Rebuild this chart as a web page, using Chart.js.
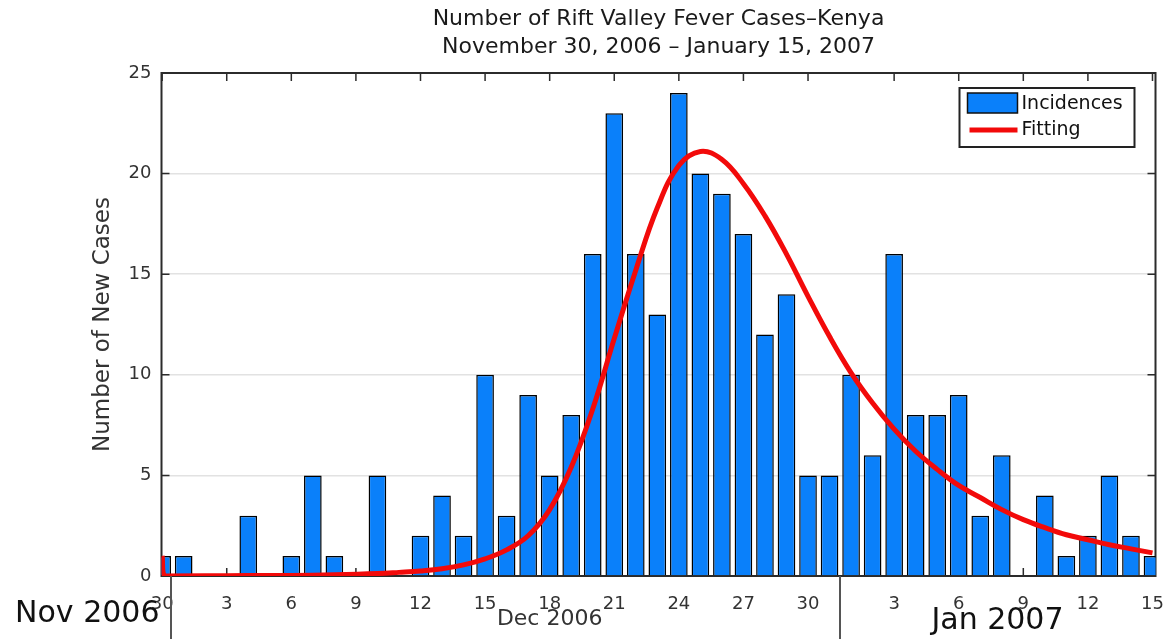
<!DOCTYPE html>
<html>
<head>
<meta charset="utf-8">
<script src="https://cdn.jsdelivr.net/npm/chart.js@4.4.1/dist/chart.umd.min.js"></script>
<style>
  html, body { margin: 0; padding: 0; background: #fff; }
  #wrap { width: 1168px; height: 639px; }
</style>
</head>
<body>
<div id="wrap"><canvas id="chart" width="1168" height="639"></canvas></div>
<script>
// day 0 = Nov 30 2006 ... day 46 = Jan 15 2007
const caseDays = [0, 1, 2, 3, 4, 5, 6, 7, 8, 9, 10, 11, 12, 13, 14, 15, 16, 17, 18, 19,
  20, 21, 22, 23, 24, 25, 26, 27, 28, 29, 30, 31, 32, 33, 34, 35, 36, 37, 38, 39,
  40, 41, 42, 43, 44, 45, 46];
const caseCounts = [1, 1, 0, 0, 3, 0, 1, 5, 1, 0, 5, 0, 2, 4, 2, 10, 3, 9, 5, 8,
  16, 23, 16, 13, 24, 20, 19, 17, 12, 14, 5, 5, 10, 6, 16, 8, 8, 9, 3, 6,
  0, 4, 1, 2, 5, 2, 1];

// fitted curve
const fitDays = [0, 0.12, 2, 4, 6, 8, 10, 11, 12, 13, 14, 15, 16, 17, 18, 19, 20, 21, 22, 23,
  24, 25, 26, 27, 28, 29, 30, 31, 32, 33, 34, 35, 36, 37, 38, 39, 40, 41, 42, 43, 44, 45, 46];
const fitValues = [1.0, 0.0, 0.01, 0.02, 0.03, 0.06, 0.12, 0.18, 0.25, 0.36, 0.55, 0.85, 1.3, 2.0, 3.3, 5.4, 8.3, 11.8, 15.2, 18.3,
  20.4, 21.1, 20.7, 19.5, 17.9, 16.0, 13.9, 11.9, 10.1, 8.6, 7.3, 6.2, 5.3, 4.5, 3.9, 3.3, 2.8, 2.4, 2.05, 1.8, 1.55, 1.35, 1.15];

const tickDays = [0, 3, 6, 9, 12, 15, 18, 21, 24, 27, 30, 34, 37, 40, 43, 46];
const tickLabels = ['30', '3', '6', '9', '12', '15', '18', '21', '24', '27', '30', '3', '6', '9', '12', '15'];
const monthLabels = ['Nov 2006', 'Dec 2006', 'Jan 2007'];

const FONT = "'DejaVu Sans', sans-serif";
Chart.defaults.font.family = FONT;

// matlab style box, inward ticks, month row and legend
const matlabFrame = {
  id: 'matlabFrame',
  beforeDatasetsDraw(chart) {
    const {ctx, chartArea: a, scales: {x, y}} = chart;
    ctx.save();
    ctx.strokeStyle = '#2b2b2b';
    ctx.lineWidth = 1.5;
    ctx.beginPath();
    x.ticks.forEach(t => {
      const px = x.getPixelForValue(t.value);
      ctx.moveTo(px, a.top); ctx.lineTo(px, a.top + 8);
      ctx.moveTo(px, a.bottom); ctx.lineTo(px, a.bottom - 8);
    });
    y.ticks.forEach(t => {
      const py = y.getPixelForValue(t.value);
      ctx.moveTo(a.left, py); ctx.lineTo(a.left + 8, py);
      ctx.moveTo(a.right, py); ctx.lineTo(a.right - 8, py);
    });
    ctx.stroke();
    ctx.lineWidth = 2;
    ctx.strokeRect(a.left, a.top, a.right - a.left, a.bottom - a.top);
    ctx.restore();
  },
  afterDraw(chart) {
    const {ctx, chartArea: a, scales: {x}} = chart;
    ctx.save();
    // month separators
    ctx.strokeStyle = '#555';
    ctx.lineWidth = 2;
    ctx.beginPath();
    [0.4, 31.5].forEach(d => {
      const px = Math.round(x.getPixelForValue(d));
      ctx.moveTo(px, a.bottom); ctx.lineTo(px, chart.height);
    });
    ctx.stroke();

    ctx.textBaseline = 'middle';
    ctx.fillStyle = '#111';
    ctx.font = '30px ' + FONT;
    ctx.textAlign = 'right';
    ctx.fillText(monthLabels[0], a.left - 2, 614);
    ctx.textAlign = 'center';
    ctx.fillText(monthLabels[2], x.getPixelForValue(38.8), 621);
    ctx.fillStyle = '#333';
    ctx.font = '22px ' + FONT;
    ctx.fillText(monthLabels[1], x.getPixelForValue(18), 619);

    // legend box
    const ds = chart.data.datasets;
    const bx = a.right - 196, by = a.top + 15, bw = 175, bh = 59;
    ctx.fillStyle = '#fff';
    ctx.fillRect(bx, by, bw, bh);
    ctx.strokeStyle = '#222';
    ctx.lineWidth = 2;
    ctx.strokeRect(bx, by, bw, bh);
    const bar = ds.find(d => d.type === 'bar');
    const line = ds.find(d => d.type === 'line');
    ctx.fillStyle = bar.backgroundColor;
    ctx.fillRect(bx + 8, by + 5, 50, 20);
    ctx.lineWidth = 1.5;
    ctx.strokeStyle = '#111';
    ctx.strokeRect(bx + 8, by + 5, 50, 20);
    ctx.strokeStyle = line.borderColor;
    ctx.lineWidth = 5;
    ctx.beginPath();
    ctx.moveTo(bx + 10, by + 42); ctx.lineTo(bx + 58, by + 42);
    ctx.stroke();
    ctx.fillStyle = '#111';
    ctx.font = '19px ' + FONT;
    ctx.textAlign = 'left';
    ctx.fillText(bar.label, bx + 62, by + 16);
    ctx.fillText(line.label, bx + 62, by + 42);
    ctx.restore();
  }
};

new Chart(document.getElementById('chart'), {
  type: 'bar',
  data: {
    datasets: [
      {
        type: 'line',
        label: 'Fitting',
        data: fitDays.map((d, i) => ({x: d, y: fitValues[i]})),
        borderColor: '#f20a0a',
        borderWidth: 5,
        pointRadius: 0,
        tension: 0.4,
        order: 0
      },
      {
        type: 'bar',
        label: 'Incidences',
        data: caseDays.map((d, i) => ({x: d, y: caseCounts[i]})),
        backgroundColor: '#0a80fa',
        borderColor: '#000',
        borderWidth: 1.5,
        barPercentage: 0.82,
        categoryPercentage: 1,
        order: 1
      }
    ]
  },
  options: {
    responsive: false,
    animation: false,
    devicePixelRatio: 1,
    layout: {padding: {left: 0, right: 12.5, top: 0, bottom: 0}},
    scales: {
      x: {
        type: 'linear',
        min: -0.03,
        max: 46.14,
        offset: false,
        grid: {display: false},
        border: {display: false},
        afterBuildTicks: s => { s.ticks = tickDays.map(v => ({value: v})); },
        ticks: {
          autoSkip: false,
          maxRotation: 0,
          padding: 10,
          color: '#333',
          font: {size: 18},
          callback: v => tickLabels[tickDays.indexOf(v)]
        },
        afterFit: s => { s.height = 63; s.paddingLeft = 0; s.paddingRight = 0; }
      },
      y: {
        min: 0,
        max: 25,
        ticks: {stepSize: 5, padding: 10, color: '#333', font: {size: 18}},
        grid: {color: '#e2e2e2', lineWidth: 1.5, drawTicks: false},
        border: {display: false},
        title: {
          display: true,
          text: 'Number of New Cases',
          color: '#333',
          font: {size: 23},
          padding: {top: 89, bottom: 0}
        },
        afterFit: s => { s.width = 161.5; }
      }
    },
    plugins: {
      legend: {display: false},
      tooltip: {enabled: false},
      title: {
        display: true,
        fullSize: false,
        text: ['Number of Rift Valley Fever Cases\u2013Kenya', 'November 30, 2006 \u2013 January 15, 2007'],
        color: '#1a1a1a',
        font: {size: 22, weight: 'normal', lineHeight: 1.25},
        padding: {top: 6, bottom: 12}
      }
    }
  },
  plugins: [matlabFrame]
});
</script>
</body>
</html>
